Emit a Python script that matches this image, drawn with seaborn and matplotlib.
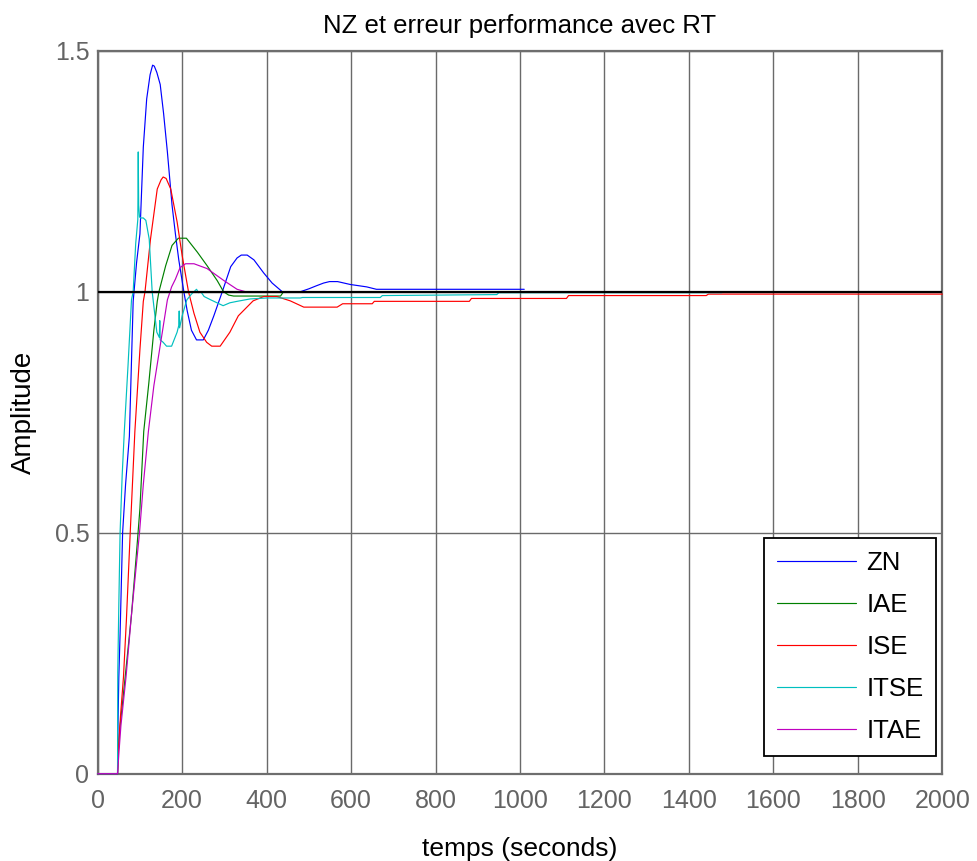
import matplotlib
matplotlib.use("Agg")
import matplotlib.pyplot as plt
import seaborn as sns
import pandas as pd

# ---------------- data ----------------
zn_t = [0, 47, 48, 50, 53, 59, 66, 75, 84, 92, 100, 108, 116, 124, 130, 134, 140, 148, 156, 165, 176, 184, 192, 204,
        212, 222, 234, 250, 262, 275, 295, 315, 330, 340, 354, 370, 393, 413, 437, 480, 500, 517, 535, 549, 568, 598,
        637, 660, 1010]
zn_y = [0, 0, 0.10, 0.20, 0.29, 0.50, 0.60, 0.70, 0.98, 1.06, 1.12, 1.30, 1.40, 1.45, 1.47, 1.468, 1.455, 1.43, 1.37,
        1.29, 1.18, 1.12, 1.066, 1.0, 0.96, 0.92, 0.90, 0.90, 0.92, 0.95, 1.0, 1.052, 1.07, 1.076, 1.076, 1.066, 1.039,
        1.018, 1.0, 1.0, 1.006, 1.012, 1.018, 1.021, 1.021, 1.015, 1.01, 1.005, 1.005]

iae_t = [0, 47, 49, 53, 58, 65, 80, 92, 100, 109, 121, 133, 141, 145, 161, 176, 191, 210, 236, 259, 283, 298, 310,
         322, 433, 440]
iae_y = [0, 0, 0.05, 0.10, 0.14, 0.20, 0.33, 0.46, 0.55, 0.71, 0.81, 0.92, 0.98, 1.0, 1.054, 1.096, 1.111, 1.111,
         1.082, 1.054, 1.023, 1.0, 0.993, 0.991, 0.991, 1.0]

ise_t = [0, 47, 49, 54, 61, 68, 77, 88, 100, 108, 112, 125, 141, 150, 155, 162, 173, 188, 200, 215, 228, 242, 258,
         270, 290, 313, 333, 368, 393, 424, 456, 488, 567, 580, 650, 655, 880, 885, 1110, 1115, 1441, 1446, 2000]
ise_y = [0, 0, 0.05, 0.12, 0.20, 0.32, 0.50, 0.71, 0.88, 0.98, 1.0, 1.109, 1.213, 1.232, 1.238, 1.235, 1.213, 1.145,
         1.075, 1.0, 0.955, 0.916, 0.895, 0.887, 0.887, 0.916, 0.95, 0.981, 0.99, 0.99, 0.981, 0.968, 0.968, 0.975,
         0.975, 0.98, 0.98, 0.986, 0.986, 0.992, 0.992, 0.995, 0.995]

itse_t = [0, 47, 47.5, 50, 53, 58, 63, 72, 80, 84, 90, 95, 96, 97, 99, 102, 108, 114, 122, 129, 140, 146, 147, 148,
          155, 163, 175, 188, 192, 193, 194, 200, 211, 222, 234, 239, 244, 252, 268, 297, 313, 330, 361, 401, 480,
          485, 669, 674, 945, 950, 1478]
itse_y = [0, 0, 0.21, 0.35, 0.50, 0.62, 0.71, 0.85, 0.983, 1.0, 1.10, 1.15, 1.29, 1.18, 1.155, 1.153, 1.153, 1.148,
          1.109, 1.0, 0.916, 0.905, 0.94, 0.90, 0.895, 0.887, 0.887, 0.916, 0.93, 0.96, 0.925, 0.95, 0.983, 0.995,
          1.005, 0.998, 1.0, 0.99, 0.983, 0.971, 0.977, 0.98, 0.985, 0.987, 0.987, 0.988, 0.988, 0.992, 0.994,
          0.998, 0.998]

itae_t = [0, 47, 50, 55, 67, 80, 99, 108, 120, 133, 153, 165, 175, 184, 195, 208, 228, 259, 299, 330, 350]
itae_y = [0, 0, 0.04, 0.10, 0.20, 0.33, 0.50, 0.60, 0.71, 0.805, 0.916, 0.983, 1.01, 1.026, 1.050, 1.058, 1.058,
          1.048, 1.023, 1.005, 1.0]

setpoint_t = [0, 2000]
setpoint_y = [1, 1]

series_names = ["ZN", "IAE", "ISE", "ITSE", "ITAE"]
series_t = [zn_t, iae_t, ise_t, itse_t, itae_t]
series_y = [zn_y, iae_y, ise_y, itse_y, itae_y]
series_colors = ["#0000ff", "#008000", "#ff0000", "#00bfbf", "#bf00bf"]

x_ticks = [0, 200, 400, 600, 800, 1000, 1200, 1400, 1600, 1800, 2000]
y_ticks = [0, 0.5, 1, 1.5]
y_tick_labels = ["0", "0.5", "1", "1.5"]

title = "NZ et erreur performance avec RT"
xlabel = "temps (seconds)"
ylabel = "Amplitude"

# ---------------- style ----------------
sns.set_style("white")
plt.rcParams["font.family"] = ["Liberation Sans", "DejaVu Sans"]
plt.rcParams["text.color"] = "black"

fig = plt.figure(figsize=(9.77, 8.61), dpi=100)
ax = fig.add_axes([0.100, 0.1014, 0.8645, 0.8397])

for name, t, y, c in zip(series_names, series_t, series_y, series_colors):
    df = pd.DataFrame({"t": t, "y": y})
    sns.lineplot(data=df, x="t", y="y", ax=ax, color=c, linewidth=0.85, label=name,
                 estimator=None, sort=False, zorder=3, clip_on=False)

sp = pd.DataFrame({"t": setpoint_t, "y": setpoint_y})
sns.lineplot(data=sp, x="t", y="y", ax=ax, color="black", linewidth=1.6, label="_nolegend_",
             estimator=None, sort=False, zorder=3.5)

ax.set_xlim(0, 2000)
ax.set_ylim(0, 1.5)
ax.set_xticks(x_ticks)
ax.set_yticks(y_ticks)
ax.set_yticklabels(y_tick_labels)
ax.tick_params(axis="both", length=0, labelsize=18, colors="#646464")
ax.tick_params(axis="x", pad=11)
ax.tick_params(axis="y", pad=6)

ax.grid(True, color="#6a6a6a", linewidth=1.0)
ax.set_axisbelow(True)
for s in ax.spines.values():
    s.set_color("#6e6e6e")
    s.set_linewidth(1.6)

ax.set_title(title, fontsize=18.5, color="black", pad=13)
ax.set_xlabel(xlabel, fontsize=19, color="black", labelpad=17)
ax.set_ylabel(ylabel, fontsize=20, color="black", labelpad=13)

leg = ax.legend(loc="lower right", bbox_to_anchor=(0.993, 0.0245), borderaxespad=0,
                fontsize=18.5, handlelength=3.1, handletextpad=0.4, labelspacing=0.70,
                borderpad=0.5, fancybox=False, framealpha=1, edgecolor="black")
leg.get_frame().set_linewidth(1.3)
leg.set_zorder(5)
for txt in leg.get_texts():
    txt.set_color("black")

fig.savefig("out.png", dpi=100)
